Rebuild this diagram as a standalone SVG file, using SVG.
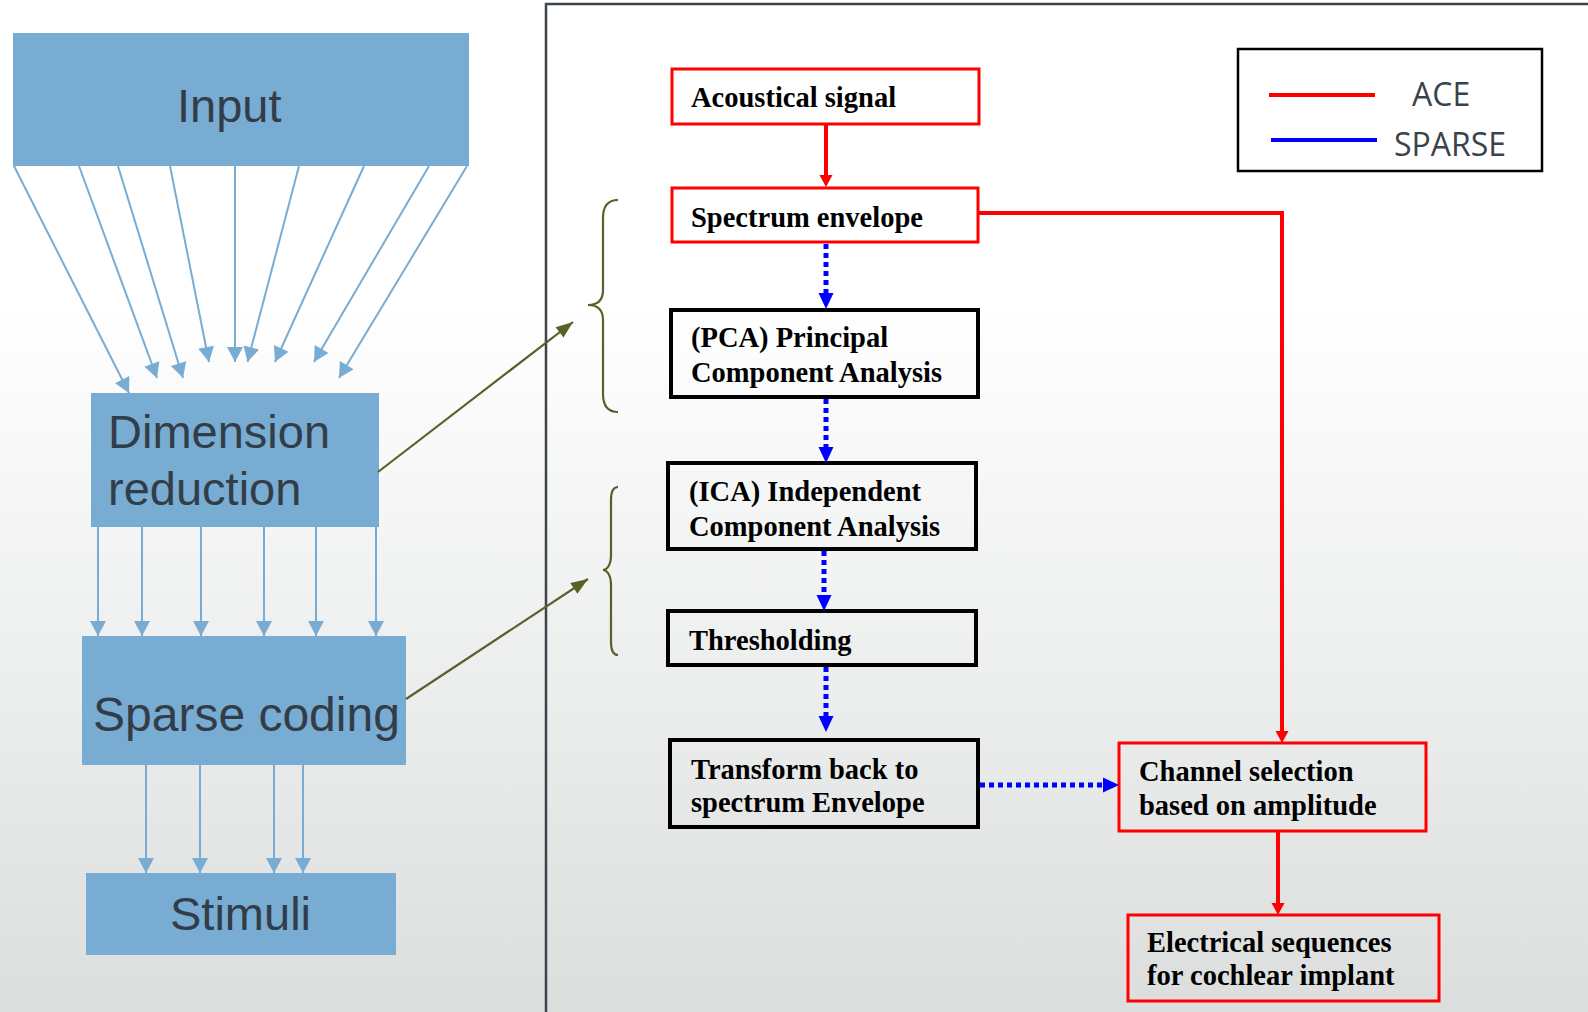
<svg xmlns="http://www.w3.org/2000/svg" width="1588" height="1012" viewBox="0 0 1588 1012">
<defs>
<linearGradient id="bg" x1="0" y1="0" x2="0" y2="1">
<stop offset="0" stop-color="#ffffff"/>
<stop offset="0.3" stop-color="#ffffff"/>
<stop offset="1" stop-color="#dcdede"/>
</linearGradient>
<marker id="mLB" markerUnits="userSpaceOnUse" orient="auto" overflow="visible" refX="0" refY="0"><path d="M-15,-8 L0,0 L-15,8 z" fill="#78acd3"/></marker>
<marker id="mRed" markerUnits="userSpaceOnUse" orient="auto" overflow="visible" refX="0" refY="0"><path d="M0,-6.5 L12,0 L0,6.5 z" fill="#ff0000"/></marker>
<marker id="mBlue" markerUnits="userSpaceOnUse" orient="auto" overflow="visible" refX="0" refY="0"><path d="M0,-7.5 L16,0 L0,7.5 z" fill="#0000ff"/></marker>
<marker id="mOl" markerUnits="userSpaceOnUse" orient="auto" overflow="visible" refX="0" refY="0"><path d="M-17,-6.5 L0,0 L-17,6.5 z" fill="#5a6127"/></marker>
</defs>
<style>
.lbox{fill:#78acd3;}
.ltxt{font-family:"Liberation Sans",Arial,sans-serif;font-size:47px;fill:#333d47;}
.lb{stroke:#78acd3;stroke-width:2;fill:none;marker-end:url(#mLB);}
.rbox{fill:none;stroke:#ff0000;stroke-width:3;}
.kbox{fill:none;stroke:#000000;stroke-width:4;}
.rtxt{font-family:"Liberation Serif","Times New Roman",serif;font-size:28.5px;font-weight:bold;fill:#000;}
.red{stroke:#ff0000;stroke-width:4;fill:none;marker-end:url(#mRed);}
.blue{stroke:#0000ff;stroke-width:5;fill:none;stroke-dasharray:5 4;marker-end:url(#mBlue);}
.ol{stroke:#5a6127;stroke-width:2.2;fill:none;}
.legtxt{font-family:"Open Sans","Noto Sans",sans-serif;font-size:32px;fill:#3a434b;}
</style>
<rect x="0" y="0" width="1588" height="1012" fill="url(#bg)"/>
<path d="M546,1012 L546,4 L1588,4" fill="none" stroke="#3d444c" stroke-width="2.5"/>

<g id="input"><rect class="lbox" x="13" y="33" width="456" height="133"/><text class="ltxt" x="177" y="122">Input</text></g>
<g id="dimred"><rect class="lbox" x="91" y="393" width="288" height="134"/><text class="ltxt" x="108" y="448">Dimension</text><text class="ltxt" x="108" y="505">reduction</text></g>
<g id="sparse"><rect class="lbox" x="82" y="636" width="324" height="129"/><text class="ltxt" x="93" y="731" style="font-size:48px">Sparse coding</text></g>
<g id="stimuli"><rect class="lbox" x="86" y="873" width="310" height="82"/><text class="ltxt" x="170" y="930">Stimuli</text></g>

<g id="acoustical"><rect class="rbox" x="672" y="69" width="307" height="55"/><text class="rtxt" x="691" y="107">Acoustical signal</text></g>
<g id="spectrum"><rect class="rbox" x="672" y="188" width="306" height="54"/><text class="rtxt" x="691" y="227">Spectrum envelope</text></g>
<g id="pca"><rect class="kbox" x="671" y="310" width="307" height="87"/><text class="rtxt" x="691" y="347">(PCA) Principal</text><text class="rtxt" x="691" y="382">Component Analysis</text></g>
<g id="ica"><rect class="kbox" x="668" y="463" width="308" height="86"/><text class="rtxt" x="689" y="501">(ICA) Independent</text><text class="rtxt" x="689" y="536">Component Analysis</text></g>
<g id="threshold"><rect class="kbox" x="668" y="611" width="308" height="54"/><text class="rtxt" x="689" y="650">Thresholding</text></g>
<g id="transform"><rect class="kbox" x="670" y="740" width="308" height="87"/><text class="rtxt" x="691" y="779">Transform back to</text><text class="rtxt" x="691" y="812">spectrum Envelope</text></g>
<g id="channel"><rect class="rbox" x="1119" y="743" width="307" height="88"/><text class="rtxt" x="1139" y="781">Channel selection</text><text class="rtxt" x="1139" y="815">based on amplitude</text></g>
<g id="electrical"><rect class="rbox" x="1128" y="915" width="311" height="86"/><text class="rtxt" x="1147" y="952">Electrical sequences</text><text class="rtxt" x="1147" y="985">for cochlear implant</text></g>

<g id="legend">
<rect x="1238" y="49" width="304" height="122" fill="#ffffff" stroke="#000" stroke-width="2.5"/>
<line x1="1269" y1="95" x2="1375" y2="95" stroke="#ff0000" stroke-width="4"/>
<line x1="1271" y1="140" x2="1377" y2="140" stroke="#0000ff" stroke-width="4"/>
<text class="legtxt" x="1412" y="106">ACE</text>
<text class="legtxt" x="1394" y="156">SPARSE</text>
</g>

<g id="braces">
<path class="ol" d="M618,200 C608,200 603,206 603,218 L603,290 C603,300 598,305 588,305 C598,305 603,310 603,320 L603,394 C603,406 608,412 618,412"/>
<path class="ol" d="M618,487 C613,487 611,492 611,500 L611,555 C611,565 607,570 603,570 C607,570 611,575 611,585 L611,642 C611,650 613,655 618,655"/>
</g>

<g id="connectors">
<line class="lb" x1="14" y1="166" x2="129" y2="393"/>
<line class="lb" x1="79" y1="166" x2="157" y2="378"/>
<line class="lb" x1="118" y1="166" x2="183" y2="378"/>
<line class="lb" x1="170" y1="166" x2="209" y2="362"/>
<line class="lb" x1="235" y1="166" x2="235" y2="362"/>
<line class="lb" x1="299" y1="166" x2="247.5" y2="362"/>
<line class="lb" x1="364" y1="166" x2="275" y2="362"/>
<line class="lb" x1="429" y1="166" x2="314" y2="362"/>
<line class="lb" x1="467" y1="166" x2="339" y2="378"/>

<line class="lb" x1="98" y1="527" x2="98" y2="636"/>
<line class="lb" x1="142" y1="527" x2="142" y2="636"/>
<line class="lb" x1="201" y1="527" x2="201" y2="636"/>
<line class="lb" x1="264" y1="527" x2="264" y2="636"/>
<line class="lb" x1="316" y1="527" x2="316" y2="636"/>
<line class="lb" x1="376" y1="527" x2="376" y2="636"/>

<line class="lb" x1="146" y1="765" x2="146" y2="873"/>
<line class="lb" x1="200" y1="765" x2="200" y2="873"/>
<line class="lb" x1="274" y1="765" x2="274" y2="873"/>
<line class="lb" x1="303" y1="765" x2="303" y2="873"/>

<line class="ol" x1="378" y1="472" x2="573" y2="322" marker-end="url(#mOl)"/>
<line class="ol" x1="406" y1="699" x2="588" y2="579" marker-end="url(#mOl)"/>

<line class="red" x1="826" y1="124" x2="826" y2="175"/>
<polyline class="red" points="978,213 1282,213 1282,731"/>
<line class="red" x1="1278" y1="831" x2="1278" y2="903"/>

<line class="blue" x1="826" y1="244" x2="826" y2="293"/>
<line class="blue" x1="826" y1="399" x2="826" y2="447"/>
<line class="blue" x1="824" y1="551" x2="824" y2="595"/>
<line class="blue" x1="826" y1="667" x2="826" y2="716"/>
<line class="blue" x1="980" y1="785" x2="1103" y2="785"/>
</g>
</svg>
